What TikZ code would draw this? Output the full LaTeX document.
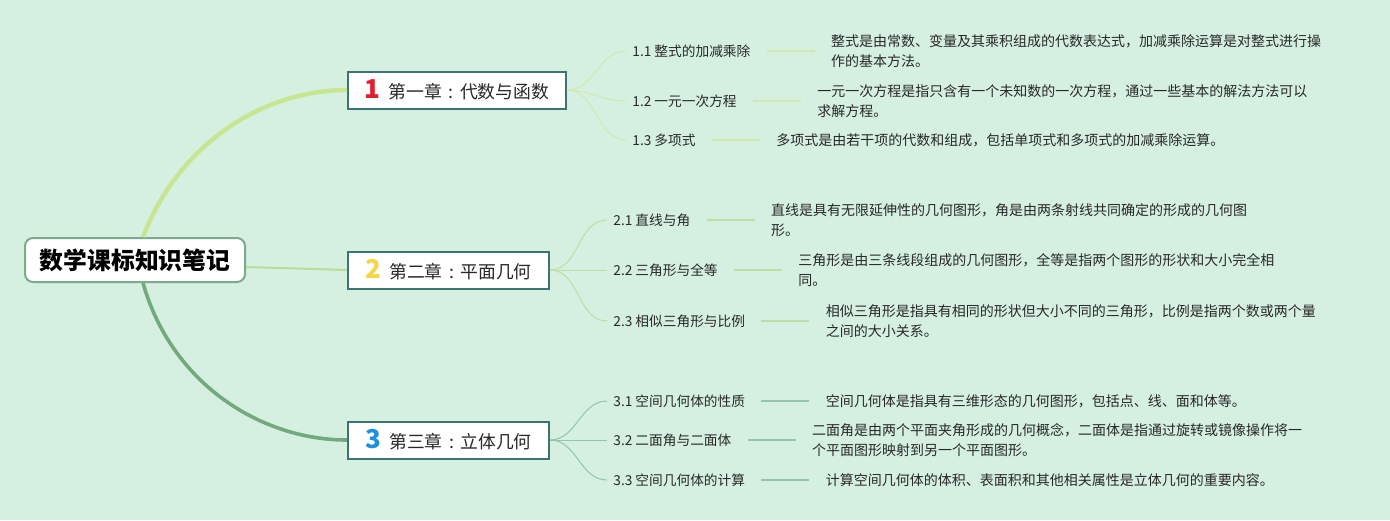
\documentclass[tikz,border=0pt]{standalone}
\usepackage{fontspec}
\setmainfont{Noto Sans CJK SC}
\usepackage{tikz}
\usetikzlibrary{positioning}
\definecolor{bgmint}{RGB}{213,240,225}
\definecolor{rootline}{RGB}{125,170,140}
\definecolor{boxline}{RGB}{60,115,115}
\definecolor{branchA}{RGB}{200,230,145}
\definecolor{branchB}{RGB}{185,220,150}
\definecolor{branchC}{RGB}{115,170,125}
\definecolor{twigA}{RGB}{210,232,175}
\definecolor{twigB}{RGB}{190,222,165}
\definecolor{twigC}{RGB}{150,195,170}
\definecolor{textgray}{RGB}{40,40,40}
\definecolor{numred}{RGB}{225,30,45}
\definecolor{numyellow}{RGB}{245,212,70}
\definecolor{numblue}{RGB}{30,145,220}
\newcommand{\chapnum}[2]{{\fontsize{13pt}{13pt}\selectfont\bfseries\textcolor{#1}{#2}}\hspace{4pt}}
\newcommand{\chapcolon}{\makebox[1em]{:}}

\begin{document}
\begin{tikzpicture}[
            x=0.5pt, y=-0.5pt,
            node distance=34pt,
            rootbox/.style={rectangle, draw=rootline, line width=1pt, fill=white, rounded corners=4pt, minimum width=110pt, minimum height=22pt, text=black, font=\fontsize{11.9pt}{14pt}\selectfont\bfseries},
            chapter/.style={rectangle, draw=boxline, line width=1pt, fill=white, anchor=west, minimum height=18.5pt, inner xsep=0pt, text=textgray, font=\fontsize{8.9pt}{11pt}\selectfont},
            topic/.style={anchor=west, inner xsep=3pt, text=textgray, font=\fontsize{6.85pt}{9.75pt}\selectfont},
            note/.style={align=left, inner xsep=3pt, text=textgray, font=\fontsize{7pt}{9.75pt}\selectfont},
            twig/.style={line width=0.5pt},
            stem/.style={line width=1pt, shorten <=5pt, shorten >=5pt}
        ]
        % Background
        \fill[bgmint] (0,0) rectangle (1390,520);

        % Define the root and the chapters
        \node[rootbox] (root) at (135,260) {数学课标知识笔记};
        \node[chapter, minimum width=109pt] (ch1) at (347,90) {\chapnum{numred}{1}第一章\chapcolon 代数与函数};
        \node[chapter, minimum width=100.5pt] (ch2) at (347,270) {\chapnum{numyellow}{2}第二章\chapcolon 平面几何};
        \node[chapter, minimum width=100.5pt] (ch3) at (347,440) {\chapnum{numblue}{3}第三章\chapcolon 立体几何};

        % Define the topics of each chapter
        \node[topic] (t11) at (626,51) {1.1 整式的加减乘除};
        \node[topic] (t12) at (626,101) {1.2 一元一次方程};
        \node[topic] (t13) at (626,140) {1.3 多项式};
        \node[topic] (t21) at (607,220) {2.1 直线与角};
        \node[topic] (t22) at (607,270) {2.2 三角形与全等};
        \node[topic] (t23) at (607,321) {2.3 相似三角形与比例};
        \node[topic] (t31) at (607,401) {3.1 空间几何体的性质};
        \node[topic] (t32) at (607,440) {3.2 二面角与二面体};
        \node[topic] (t33) at (607,480) {3.3 空间几何体的计算};

        % Define the notes next to the topics
        \node[note, right=of t11] (n11) {整式是由常数、变量及其乘积组成的代数表达式，加减乘除运算是对整式进行操\\作的基本方法。};
        \node[note, right=of t12] (n12) {一元一次方程是指只含有一个未知数的一次方程，通过一些基本的解法方法可以\\求解方程。};
        \node[note, right=of t13] (n13) {多项式是由若干项的代数和组成，包括单项式和多项式的加减乘除运算。};
        \node[note, right=of t21] (n21) {直线是具有无限延伸性的几何图形，角是由两条射线共同确定的形成的几何图\\形。};
        \node[note, right=of t22] (n22) {三角形是由三条线段组成的几何图形，全等是指两个图形的形状和大小完全相\\同。};
        \node[note, right=of t23] (n23) {相似三角形是指具有相同的形状但大小不同的三角形，比例是指两个数或两个量\\之间的大小关系。};
        \node[note, right=of t31] (n31) {空间几何体是指具有三维形态的几何图形，包括点、线、面和体等。};
        \node[note, right=of t32] (n32) {二面角是由两个平面夹角形成的几何概念，二面体是指通过旋转或镜像操作将一\\个平面图形映射到另一个平面图形。};
        \node[note, right=of t33] (n33) {计算空间几何体的体积、表面积和其他相关属性是立体几何的重要内容。};

        % Draw the branches from the root
        \draw[branchA, line width=2.2pt] ([xshift=4pt]root.north) .. controls +(35,-92) and +(-85,0) .. (ch1.west);
        \draw[branchB, line width=1pt] ([yshift=-3.5pt]root.east) -- (ch2.west);
        \draw[branchC, line width=1.8pt] ([xshift=4pt]root.south) .. controls +(29,102) and +(-85,0) .. (ch3.west);

        % Draw the twigs from the chapters to the topics
        \draw[twig, twigA] (ch1.east) to[out=0, in=180] (t11.west);
        \draw[twig, twigA] (ch1.east) to[out=0, in=180] (t12.west);
        \draw[twig, twigA] (ch1.east) to[out=0, in=180] (t13.west);
        \draw[twig, twigB] (ch2.east) to[out=0, in=180] (t21.west);
        \draw[twig, twigB] (ch2.east) -- (t22.west);
        \draw[twig, twigB] (ch2.east) to[out=0, in=180] (t23.west);
        \draw[twig, twigC] (ch3.east) to[out=0, in=180] (t31.west);
        \draw[twig, twigC] (ch3.east) -- (t32.west);
        \draw[twig, twigC] (ch3.east) to[out=0, in=180] (t33.west);

        % Draw the stems from the topics to the notes
        \draw[stem, twigA] (t11) -- (n11);
        \draw[stem, twigA] (t12) -- (n12);
        \draw[stem, twigA] (t13) -- (n13);
        \draw[stem, twigB] (t21) -- (n21);
        \draw[stem, twigB] (t22) -- (n22);
        \draw[stem, twigB] (t23) -- (n23);
        \draw[stem, twigC] (t31) -- (n31);
        \draw[stem, twigC] (t32) -- (n32);
        \draw[stem, twigC] (t33) -- (n33);
    \end{tikzpicture}
\end{document}
